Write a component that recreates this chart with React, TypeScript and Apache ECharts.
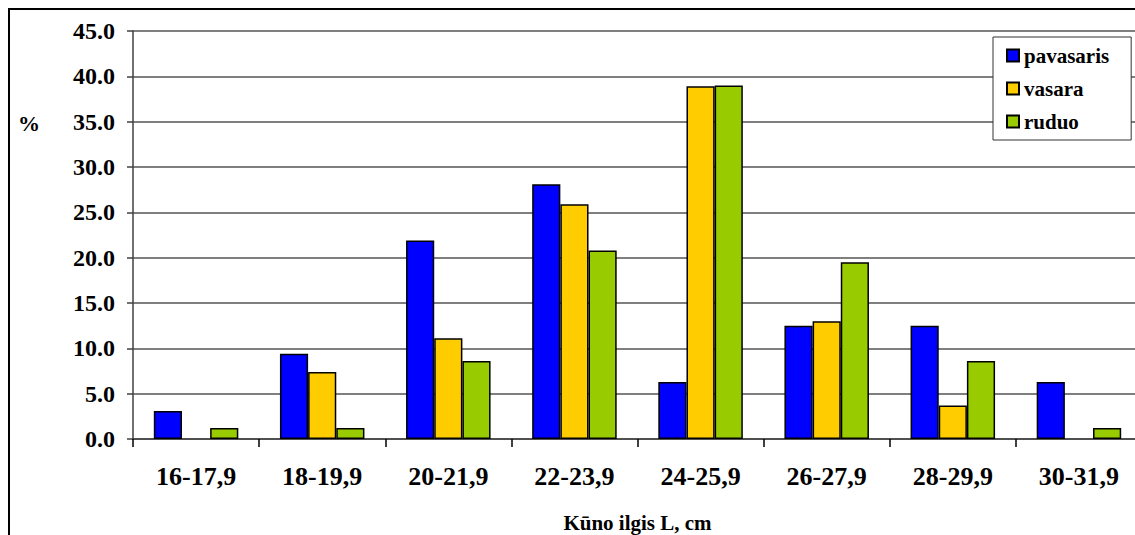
import React, { useEffect, useRef } from "react";
import * as echarts from "echarts";

const categories = ["16-17,9", "18-19,9", "20-21,9", "22-23,9", "24-25,9", "26-27,9", "28-29,9", "30-31,9"];
const pavasaris = [3.1, 9.4, 21.9, 28.1, 6.3, 12.5, 12.5, 6.3];
const vasara = [0, 7.4, 11.1, 25.9, 38.9, 13.0, 3.7, 0];
const ruduo = [1.2, 1.2, 8.6, 20.8, 39.0, 19.5, 8.6, 1.2];
const seriesNames = ["pavasaris", "vasara", "ruduo"];
const colors = ["#0000FF", "#FFCC00", "#99CC00"];

const FONT = "Liberation Serif";

export default function App() {
  const ref = useRef<HTMLDivElement>(null);
  useEffect(() => {
    document.body.style.margin = "0";
    document.body.style.overflow = "hidden";
    if (!ref.current) return;
    const chart = echarts.init(ref.current, null, { renderer: "svg" });
    const data = [pavasaris, vasara, ruduo];
    chart.setOption({
      animation: false,
      backgroundColor: "#ffffff",
      textStyle: { fontFamily: FONT },
      grid: { left: 133, top: 31, right: -7, bottom: 96, outerBoundsMode: "none", containLabel: false },
      legend: {
        orient: "vertical",
        left: 993,
        top: 37,
        padding: [8, 22, 8, 13],
        backgroundColor: "#ffffff",
        borderColor: "#333333",
        borderWidth: 1,
        itemWidth: 12,
        itemHeight: 12,
        itemGap: 12,
        icon: "rect",
        data: seriesNames,
        textStyle: { fontFamily: FONT, fontWeight: "bold", fontSize: 21, color: "#000" },
      },
      xAxis: {
        type: "category",
        data: categories,
        name: "Kūno ilgis L, cm",
        nameLocation: "middle",
        nameGap: 73,
        nameTextStyle: { fontFamily: FONT, fontWeight: "bold", fontSize: 21, color: "#000" },
        axisLine: { lineStyle: { color: "#404040", width: 1.5 } },
        axisTick: { show: true, length: 8, lineStyle: { color: "#000", width: 1.5 } },
        axisLabel: { fontFamily: FONT, fontWeight: "bold", fontSize: 26, color: "#000", margin: 24 },
      },
      yAxis: {
        type: "value",
        min: 0,
        max: 45,
        interval: 5,
        axisLine: { show: true, lineStyle: { color: "#404040", width: 1.5 } },
        axisTick: { show: true, length: 6, lineStyle: { color: "#404040", width: 1.5 } },
        axisLabel: {
          fontFamily: FONT,
          fontWeight: "bold",
          fontSize: 24,
          color: "#000",
          margin: 18,
          formatter: (v: number) => v.toFixed(1),
        },
        splitLine: { show: true, lineStyle: { color: "#555555", width: 1.5 } },
      },
      graphic: [
        {
          type: "rect",
          shape: { x: 9, y: 9, width: 1300, height: 700 },
          style: { fill: "none", stroke: "#000", lineWidth: 2 },
          silent: true,
          z: 100,
        },
        {
          type: "text",
          x: 18,
          y: 123,
          style: {
            text: "%",
            fontFamily: FONT,
            fontWeight: "bold",
            fontSize: 22,
            fill: "#000",
            verticalAlign: "middle",
          },
        },
      ],
      series: seriesNames.map((name, i) => ({
        name,
        type: "bar",
        data: data[i].map((v) => (v === 0 ? null : v)),
        barGap: "0%",
        barCategoryGap: "33%",
        itemStyle: { color: colors[i], borderColor: "#000", borderWidth: 1.5 },
      })),
    });
    return () => chart.dispose();
  }, []);
  return (
    <div
      ref={ref}
      style={{ position: "absolute", left: 0, top: 0, width: 1135, height: 535, background: "#fff" }}
    />
  );
}
